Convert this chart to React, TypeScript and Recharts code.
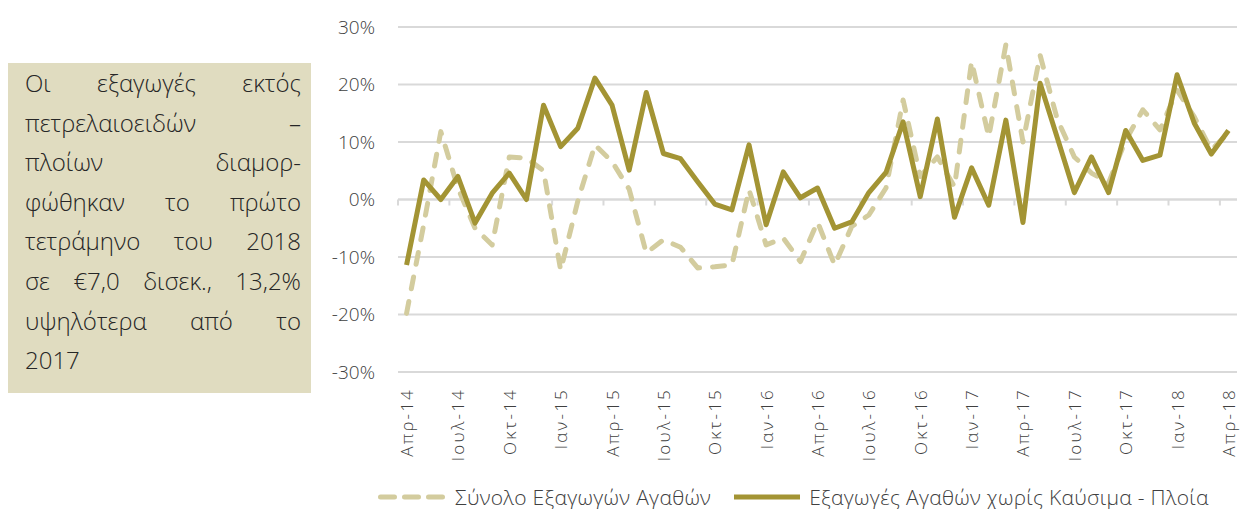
import React from "react";
import {
  LineChart,
  Line,
  XAxis,
  YAxis,
  CartesianGrid,
  Legend,
  ReferenceLine,
} from "recharts";

// the chart fills the whole 1240x509 window, so drop the default body margin
if (typeof document !== "undefined") document.body.style.margin = "0";

const months = [
  "Απρ-14", "Μαϊ-14", "Ιουν-14", "Ιουλ-14", "Αυγ-14", "Σεπ-14", "Οκτ-14", "Νοε-14", "Δεκ-14",
  "Ιαν-15", "Φεβ-15", "Μαρ-15", "Απρ-15", "Μαϊ-15", "Ιουν-15", "Ιουλ-15", "Αυγ-15", "Σεπ-15",
  "Οκτ-15", "Νοε-15", "Δεκ-15", "Ιαν-16", "Φεβ-16", "Μαρ-16", "Απρ-16", "Μαϊ-16", "Ιουν-16",
  "Ιουλ-16", "Αυγ-16", "Σεπ-16", "Οκτ-16", "Νοε-16", "Δεκ-16", "Ιαν-17", "Φεβ-17", "Μαρ-17",
  "Απρ-17", "Μαϊ-17", "Ιουν-17", "Ιουλ-17", "Αυγ-17", "Σεπ-17", "Οκτ-17", "Νοε-17", "Δεκ-17",
  "Ιαν-18", "Φεβ-18", "Μαρ-18", "Απρ-18",
];

// Σύνολο Εξαγωγών Αγαθών, % yoy
const totalExports = [
  -19.8, -4.4, 11.8, 2.0, -5.0, -7.9, 7.4, 7.2, 5.0,
  -12.3, -0.3, 9.5, 6.6, 1.8, -9.3, -7.0, -8.3, -11.9,
  -11.7, -11.4, 1.7, -7.9, -6.7, -10.8, -3.9, -11.4, -4.7,
  -2.7, 2.0, 17.3, 4.0, 7.4, 2.2, 24.0, 10.9, 26.9,
  10.0, 25.1, 14.0, 7.4, 4.6, 2.9, 10.3, 15.6, 12.1,
  19.0, 14.4, 8.6, 11.6,
];

// Εξαγωγές Αγαθών χωρίς Καύσιμα - Πλοία, % yoy
const exportsExFuelShips = [
  -11.4, 3.4, 0.0, 4.0, -4.1, 1.1, 4.6, 0.0, 16.4,
  9.2, 12.4, 21.1, 16.4, 5.1, 18.6, 8.0, 7.1, 3.1,
  -0.8, -1.8, 9.5, -4.4, 4.8, 0.3, 2.0, -5.0, -3.9,
  1.2, 4.7, 13.5, 0.5, 14.0, -3.1, 5.5, -1.0, 13.8,
  -4.0, 20.2, 10.8, 1.2, 7.4, 1.2, 12.0, 6.8, 7.7,
  21.7, 13.3, 7.9, 12.0,
];

const yTicks = [-30, -20, -10, 0, 10, 20, 30];

const noteLines = [
  "Οι εξαγωγές εκτός",
  "πετρελαιοειδών –",
  "πλοίων διαμορ-",
  "φώθηκαν το πρώτο",
  "τετράμηνο του 2018",
  "σε €7,0 δισεκ., 13,2%",
  "υψηλότερα από το",
  "2017",
];

const data = months.map((month, i) => ({
  month,
  total: totalExports[i],
  core: exportsExFuelShips[i],
}));

const FONT = '"Open Sans", "Noto Sans", sans-serif';
const TEXT = "#404040";
const OLIVE = "#A39434";
const SAND = "#D3CC9E";
const GRID = "#D9D9D9";

function MonthTick(props: any) {
  const { x, y, payload } = props;
  return (
    <text
      x={x}
      y={y}
      transform={`rotate(-90, ${x}, ${y})`}
      textAnchor="end"
      dominantBaseline="central"
      fill={TEXT}
      fontSize={17}
      letterSpacing={2.2}
      fontWeight={300}
      fontFamily={FONT}
    >
      {payload.value}
    </text>
  );
}

// zero line with the category tick marks hanging from it
function ZeroAxis(props: any) {
  const { x1, x2, y1 } = props;
  const step = (x2 - x1) / months.length;
  const marks: number[] = [];
  for (let i = 0; i < months.length; i += 3) marks.push(x1 + i * step);
  return (
    <g>
      <line x1={x1} x2={x2} y1={y1} y2={y1} stroke={GRID} strokeWidth={2} />
      {marks.map((mx) => (
        <line key={mx} x1={mx} x2={mx} y1={y1} y2={y1 + 6} stroke={GRID} strokeWidth={2} />
      ))}
    </g>
  );
}

function LegendContent() {
  return (
    <div
      style={{
        display: "flex",
        alignItems: "center",
        height: 24,
        lineHeight: "24px",
        paddingLeft: 378,
        fontFamily: FONT,
        fontWeight: 300,
        fontSize: 21,
        letterSpacing: 0.3,
        color: TEXT,
        whiteSpace: "nowrap",
      }}
    >
      <svg width={67} height={10}>
        <line x1={2.5} x2={64.5} y1={5} y2={5} stroke={SAND} strokeWidth={5} strokeLinecap="round" strokeDasharray="14 10" />
      </svg>
      <span style={{ marginLeft: 10 }}>Σύνολο Εξαγωγών Αγαθών</span>
      <svg width={66} height={10} style={{ marginLeft: 23 }}>
        <line x1={0} x2={66} y1={5} y2={5} stroke={OLIVE} strokeWidth={5} />
      </svg>
      <span style={{ marginLeft: 9 }}>Εξαγωγές Αγαθών χωρίς Καύσιμα - Πλοία</span>
    </div>
  );
}

export default function App() {
  return (
    <div style={{ position: "relative", width: 1240, height: 509 }}>
      <LineChart
        width={1240}
        height={509}
        data={data}
        margin={{ top: 27, right: 3, left: 318, bottom: 0 }}
      >
        <CartesianGrid horizontal vertical={false} stroke={GRID} strokeWidth={2} />
        <XAxis
          dataKey="month"
          scale="band"
          interval={2}
          height={113}
          tickLine={false}
          axisLine={false}
          tickMargin={10}
          tick={<MonthTick />}
        />
        <YAxis
          domain={[-30, 30]}
          ticks={yTicks}
          width={80}
          tickLine={false}
          axisLine={false}
          tickMargin={17}
          tickFormatter={(v) => `${v}%`}
          tick={{ fill: TEXT, fontSize: 19, fontFamily: FONT, fontWeight: 300 }}
        />
        <ReferenceLine y={0} shape={<ZeroAxis />} />
        <Legend
          verticalAlign="bottom"
          content={<LegendContent />}
          wrapperStyle={{ left: 0, width: 1240, top: 485, bottom: "auto" }}
        />
        <Line
          type="linear"
          dataKey="total"
          stroke={SAND}
          strokeWidth={5}
          strokeDasharray="12 13"
          strokeLinecap="round"
          strokeLinejoin="round"
          dot={false}
          isAnimationActive={false}
        />
        <Line
          type="linear"
          dataKey="core"
          stroke={OLIVE}
          strokeWidth={5}
          strokeLinejoin="round"
          dot={false}
          isAnimationActive={false}
        />
      </LineChart>
      <div
        style={{
          position: "absolute",
          left: 8,
          top: 63,
          width: 303,
          height: 330,
          boxSizing: "border-box",
          padding: "0 10px 0 17px",
          background: "#E0DCC0",
          fontFamily: FONT,
          fontWeight: 300,
          fontSize: 24,
          lineHeight: "39.6px",
          color: "#262626",
        }}
      >
        {noteLines.map((line, i) => {
          const last = i === noteLines.length - 1;
          return (
            <div
              key={line}
              style={{
                textAlign: last ? "left" : "justify",
                textAlignLast: last ? "left" : "justify",
              }}
            >
              {line}
            </div>
          );
        })}
      </div>
    </div>
  );
}
